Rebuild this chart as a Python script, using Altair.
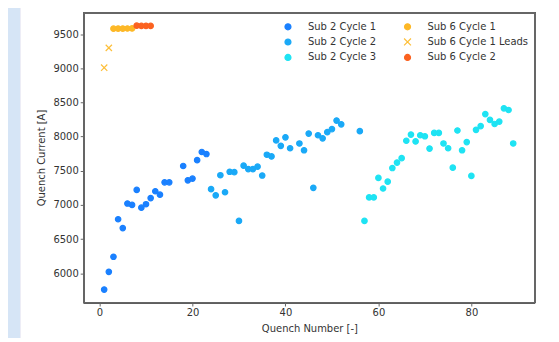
import altair as alt
import pandas as pd

# ---- data ----
s2c1_x = [1, 2, 3, 4, 5, 6, 7, 8, 9, 10, 11, 12, 13, 14, 15, 18, 19, 20, 21, 22, 23]
s2c1_y = [5760, 6020, 6240, 6790, 6660, 7020, 7000, 7220, 6960, 7010, 7100, 7200, 7150,
          7330, 7330, 7570, 7360, 7385, 7655, 7775, 7745]

s2c2_x = [24, 25, 26, 27, 28, 29, 30, 31, 32, 33, 34, 35, 36, 37, 38, 39, 40, 41, 43, 44,
          45, 46, 47, 48, 49, 50, 51, 52, 56]
s2c2_y = [7230, 7140, 7435, 7185, 7485, 7480, 6765, 7575, 7525, 7525, 7560, 7430, 7735,
          7710, 7945, 7865, 7990, 7830, 7900, 7800, 8045, 7250, 8020, 7975, 8065, 8110,
          8235, 8180, 8080]

s2c3_x = [57, 58, 59, 60, 61, 62, 63, 64, 65, 66, 67, 68, 69, 70, 71, 72, 73, 74, 75, 76,
          77, 78, 79, 80, 81, 82, 83, 84, 85, 86, 87, 88, 89]
s2c3_y = [6765, 7110, 7110, 7395, 7240, 7340, 7540, 7620, 7685, 7940, 8030, 7930, 8020,
          8005, 7825, 8055, 8055, 7900, 7830, 7545, 8090, 7800, 7920, 7425, 8100, 8155,
          8330, 8245, 8185, 8220, 8415, 8390, 7900]

s6c1_x = [3, 4, 5, 6, 7]
s6c1_y = [9582, 9583, 9583, 9584, 9585]

s6leads_x = [1, 2]
s6leads_y = [9010, 9300]

s6c2_x = [8, 9, 10, 11]
s6c2_y = [9625, 9622, 9622, 9622]

x_ticks = [0, 20, 40, 60, 80]
y_ticks = [6000, 6500, 7000, 7500, 8000, 8500, 9000, 9500]

# legend order (filled column by column, 2 columns)
series_order = ["Sub 2 Cycle 1", "Sub 2 Cycle 2", "Sub 2 Cycle 3",
                "Sub 6 Cycle 1", "Sub 6 Cycle 1 Leads", "Sub 6 Cycle 2"]
series_colors = ["#1a80ff", "#1aa9f7", "#1ee3f3", "#fdb827", "#fdbf3a", "#fb6220"]
x_path = "M-1.15,-1.15L1.15,1.15M1.15,-1.15L-1.15,1.15"
series_shapes = ["circle", "circle", "circle", "circle", x_path, "circle"]

rows = []
for name, xs, ys in [("Sub 2 Cycle 1", s2c1_x, s2c1_y),
                     ("Sub 2 Cycle 2", s2c2_x, s2c2_y),
                     ("Sub 2 Cycle 3", s2c3_x, s2c3_y),
                     ("Sub 6 Cycle 1", s6c1_x, s6c1_y),
                     ("Sub 6 Cycle 1 Leads", s6leads_x, s6leads_y),
                     ("Sub 6 Cycle 2", s6c2_x, s6c2_y)]:
    for xv, yv in zip(xs, ys):
        rows.append({"quench": xv, "current": yv, "series": name})
df = pd.DataFrame(rows)

W, H = 453, 291
FONT = "DejaVu Sans"

panel = alt.Chart(df).mark_rect(fill="white", stroke=None).encode(
    x=alt.value(-63), x2=alt.value(W + 40), y=alt.value(-20), y2=alt.value(H + 60)
)

legend = alt.Legend(
    title=None, orient="none", legendX=200, legendY=9, columns=2,
    columnPadding=25, rowPadding=3.5, labelOffset=15, symbolSize=36,
    symbolStrokeWidth=1.2, labelFontSize=10, labelFont=FONT, labelColor="#333333",
    padding=0,
)

fill_scale = alt.Scale(domain=series_order, range=series_colors)
shape_scale = alt.Scale(domain=series_order, range=series_shapes)

points = alt.Chart(df).mark_point(filled=True, opacity=1, size=30, strokeWidth=1.2).encode(
    x=alt.X("quench:Q", title="Quench Number [-]",
            scale=alt.Scale(domain=[-3.4, 93.7], nice=False, zero=False),
            axis=alt.Axis(values=x_ticks, format="d", zindex=2, titlePadding=6)),
    y=alt.Y("current:Q", title="Quench Current [A]",
            scale=alt.Scale(domain=[5570, 9817], nice=False, zero=False),
            axis=alt.Axis(values=y_ticks, format="d", zindex=2, titlePadding=6)),
    fill=alt.Fill("series:N", scale=fill_scale, legend=legend, sort=series_order),
    stroke=alt.Stroke("series:N", scale=fill_scale, legend=legend, sort=series_order),
    shape=alt.Shape("series:N", scale=shape_scale, legend=legend, sort=series_order),
)

border = alt.Chart(df).mark_rect(filled=False, stroke="#666666", strokeWidth=1).encode(
    x=alt.value(0), x2=alt.value(W), y=alt.value(0), y2=alt.value(H)
)

chart = alt.layer(panel, points, border).properties(
    width=W, height=H,
    autosize=alt.AutoSizeParams(type="none"),
    padding={"left": 76, "top": 4, "right": 16, "bottom": 35},
    background="#d6e5f6",
).configure_view(stroke=None).configure_axis(
    grid=False, labelFont=FONT, titleFont=FONT, labelFontSize=10,
    titleFontSize=10, titleFontWeight="normal", labelColor="#333333",
    titleColor="#333333", domainColor="#666666", tickColor="#666666", tickSize=3.5,
    labelPadding=2,
)

chart.save("out.html", embed_options={"renderer": "svg", "actions": False})
